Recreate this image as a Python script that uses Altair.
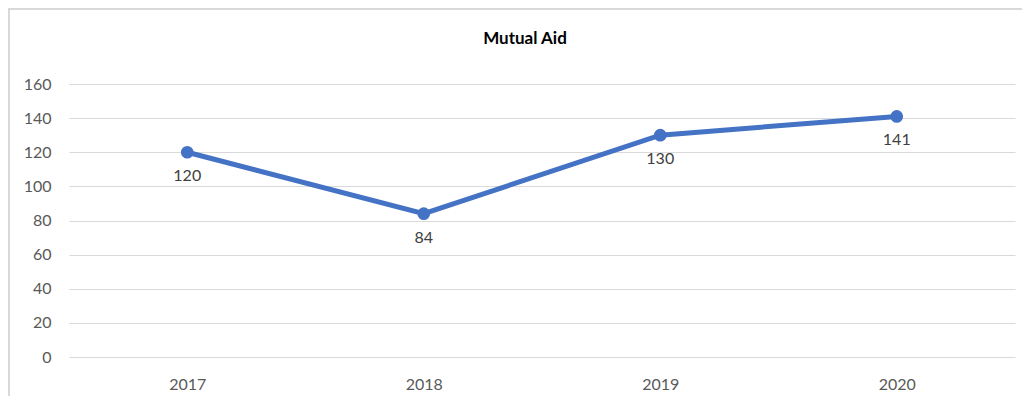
import altair as alt
import pandas as pd

title_text = "Mutual Aid"
years = ["2017", "2018", "2019", "2020"]
values = [120, 84, 130, 141]
y_ticks = [0, 20, 40, 60, 80, 100, 120, 140, 160]

df = pd.DataFrame({"year": years, "value": values})

FONT = "Lato"
BLUE = "#4472C4"

base = alt.Chart(df).encode(
    x=alt.X("year:O", sort=years,
            scale=alt.Scale(type="point", padding=0.5),
            axis=alt.Axis(title=None, labelAngle=0, domain=False, ticks=False,
                          grid=False, labelPadding=19, labelFont=FONT,
                          labelFontSize=16, labelColor="#595959")),
    y=alt.Y("value:Q", scale=alt.Scale(domain=[0, 160], nice=False),
            axis=alt.Axis(title=None, values=y_ticks, domain=False, ticks=False,
                          grid=True, gridColor="#D9D9D9", gridWidth=1,
                          labelPadding=18, labelFont=FONT, labelFontSize=16,
                          labelColor="#595959")),
)

line = base.mark_line(color=BLUE, strokeWidth=5)
points = base.mark_circle(color=BLUE, size=160, opacity=1)
labels = base.mark_text(font=FONT, fontSize=16, color="#404040",
                        baseline="top", dy=16).encode(text="value:Q")

frame_df = pd.DataFrame({"k": [0]})
top_border = alt.Chart(frame_df).mark_rule(color="#D9D9D9", strokeWidth=2).encode(
    x=alt.value(-61), x2=alt.value(1010), y=alt.value(-75))
left_border = alt.Chart(frame_df).mark_rule(color="#D9D9D9", strokeWidth=2).encode(
    x=alt.value(-60), y=alt.value(-76), y2=alt.value(312))

title_df = pd.DataFrame({"t": [title_text]})
title = alt.Chart(title_df).mark_text(
    font=FONT, fontSize=17, fontWeight="bold", color="#000000",
    align="center", baseline="alphabetic").encode(
    text="t:N", x=alt.value(456), y=alt.value(-40))

chart = alt.layer(top_border, left_border, line, points, labels, title).properties(
    width=946, height=273,
    autosize=alt.AutoSizeParams(type="none"),
    padding={"left": 61, "top": 76, "right": 7, "bottom": 39},
).configure_view(stroke=None)

chart.save("out.html", embed_options={"renderer": "svg", "actions": False})
